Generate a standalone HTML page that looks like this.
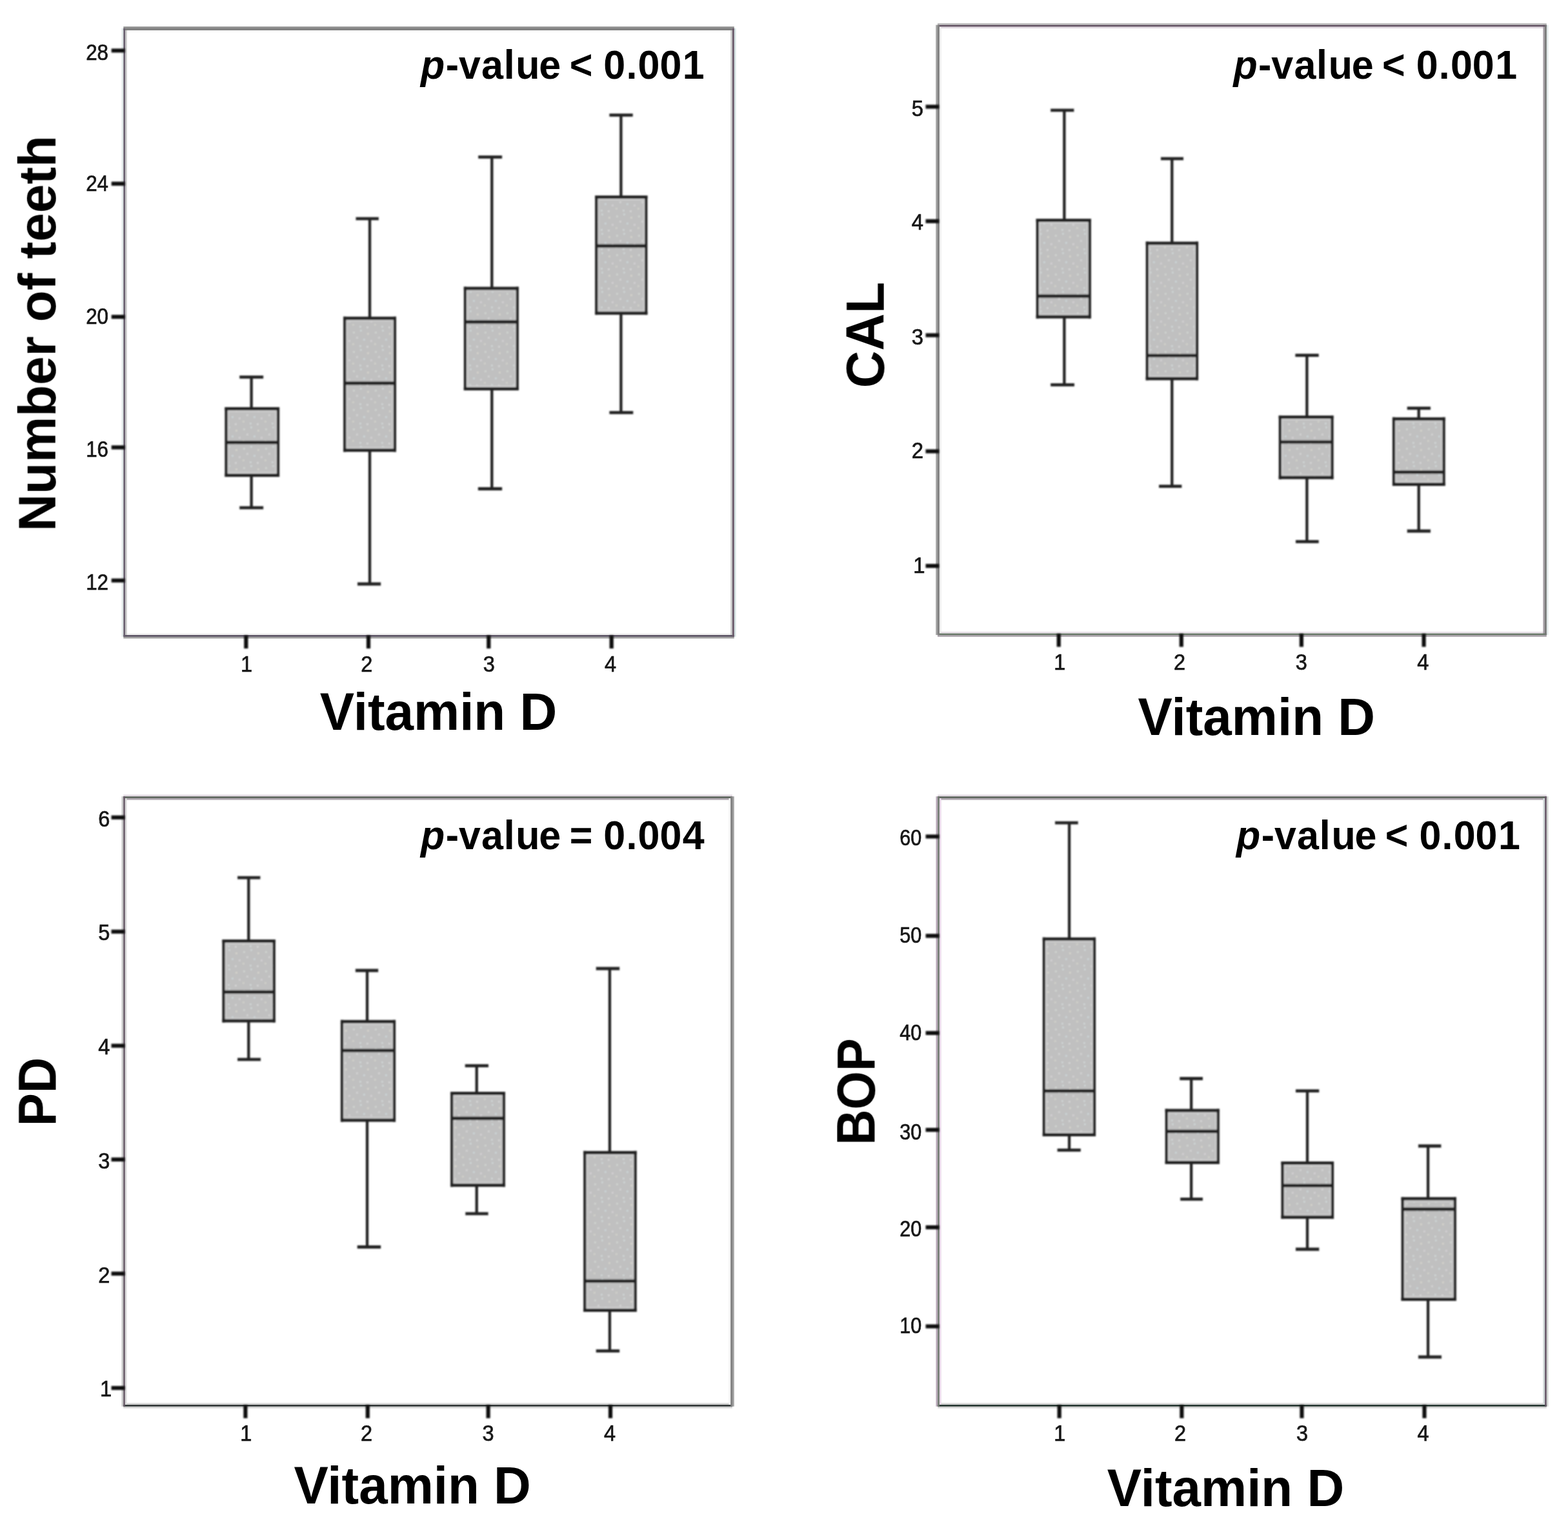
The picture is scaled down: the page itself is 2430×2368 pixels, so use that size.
<!DOCTYPE html>
<html lang="en"><head><meta charset="utf-8"><title>Vitamin D box plots</title>
<style>
html,body{margin:0;padding:0;background:#fff;}
body{width:2430px;height:2368px;overflow:hidden;}
svg{display:block;}
text{font-family:"Liberation Sans",Arial,Helvetica,sans-serif;fill:#000;}
.lab{font-weight:bold;}
.tk{font-size:35px;fill:#161616;stroke:#161616;stroke-width:0.7px;}
.pv{font-size:61px;font-weight:bold;}
.ax{font-size:80px;font-weight:bold;}
</style></head><body>
<svg xmlns="http://www.w3.org/2000/svg" width="2430" height="2368" viewBox="0 0 2430 2368">
<defs><pattern id="spk" width="34" height="30" patternUnits="userSpaceOnUse"><rect width="34" height="30" fill="#c0c0c0"/><rect x="3" y="4" width="2.7" height="2.7" fill="#d2d6d2"/><rect x="14" y="1" width="2.7" height="2.7" fill="#cfd6d6"/><rect x="25" y="6" width="2.7" height="2.7" fill="#d6d4cc"/><rect x="8" y="12" width="2.7" height="2.7" fill="#d4d4d4"/><rect x="19" y="15" width="2.7" height="2.7" fill="#ccd6d8"/><rect x="30" y="17" width="2.7" height="2.7" fill="#d4d2d4"/><rect x="2" y="22" width="2.7" height="2.7" fill="#d2d2ca"/><rect x="13" y="25" width="2.7" height="2.7" fill="#d0d6d6"/><rect x="24" y="26" width="2.7" height="2.7" fill="#d6d6d6"/></pattern><filter id="soft" x="-5%" y="-5%" width="110%" height="110%"><feGaussianBlur stdDeviation="0.9"/></filter>
<filter id="soft2" x="-5%" y="-5%" width="110%" height="110%"><feGaussianBlur stdDeviation="0.7"/></filter>
<filter id="soft3" x="-5%" y="-5%" width="110%" height="110%"><feGaussianBlur stdDeviation="0.5"/></filter></defs>
<rect x="0" y="0" width="2430" height="2368" fill="#ffffff"/>
<g id="plot1">
<g filter="url(#soft3)">
<rect x="191.3" y="41.2" width="946.5" height="2.7" fill="#8c8c8c"/>
<rect x="191.3" y="46.9" width="946.5" height="2.7" fill="#f6f6f6"/>
<rect x="191.3" y="981.4" width="946.5" height="2.7" fill="#f0f0f0"/>
<rect x="191.3" y="986.8" width="946.5" height="2.7" fill="#a0a0a0"/>
<rect x="188.6" y="43.9" width="2.7" height="942.9" fill="#e0e8e8"/>
<rect x="194" y="43.9" width="2.7" height="942.9" fill="#c8c8c8"/>
<rect x="1132.3" y="43.9" width="2.7" height="942.9" fill="#c8c8c8"/>
<rect x="1137.8" y="43.9" width="2.7" height="942.9" fill="#d4e2e2"/>
<rect x="191.3" y="43.9" width="946.5" height="3" fill="#7c7c7c"/>
<rect x="191.3" y="984.1" width="946.5" height="2.7" fill="#585060"/>
<rect x="191.3" y="43.9" width="2.7" height="942.9" fill="#6a6070"/>
<rect x="1135" y="43.9" width="2.8" height="942.9" fill="#6a5a6a"/>
</g>
<g filter="url(#soft)">
<line x1="172.7" y1="78.4" x2="193.5" y2="78.4" stroke="#111" stroke-width="6.2"/>
<line x1="172.7" y1="284.7" x2="193.5" y2="284.7" stroke="#111" stroke-width="6.2"/>
<line x1="172.7" y1="491" x2="193.5" y2="491" stroke="#111" stroke-width="6.2"/>
<line x1="172.7" y1="693.3" x2="193.5" y2="693.3" stroke="#111" stroke-width="6.2"/>
<line x1="172.7" y1="899.6" x2="193.5" y2="899.6" stroke="#111" stroke-width="6.2"/>
<line x1="381.3" y1="984.7" x2="381.3" y2="1005" stroke="#111" stroke-width="6.2"/>
<line x1="571" y1="984.7" x2="571" y2="1005" stroke="#111" stroke-width="6.2"/>
<line x1="757.3" y1="984.7" x2="757.3" y2="1005" stroke="#111" stroke-width="6.2"/>
<line x1="947.7" y1="984.7" x2="947.7" y2="1005" stroke="#111" stroke-width="6.2"/>
<line x1="389.6" y1="584.3" x2="389.6" y2="786.8" stroke="#202020" stroke-width="4.3"/>
<line x1="371.2" y1="584.3" x2="408.1" y2="584.3" stroke="#202020" stroke-width="4.8"/>
<line x1="371.2" y1="786.8" x2="408.1" y2="786.8" stroke="#202020" stroke-width="4.8"/>
<rect x="350.5" y="633.6" width="80.5" height="102.9" fill="url(#spk)"/>
<rect x="353.9" y="637.4" width="73.7" height="95.3" fill="none" stroke="#cecece" stroke-width="2.4"/>
<line x1="350.5" y1="631.1" x2="350.5" y2="739" stroke="#242424" stroke-width="4.2"/>
<line x1="431" y1="631.1" x2="431" y2="739" stroke="#242424" stroke-width="4.2"/>
<line x1="348.4" y1="633.6" x2="433.1" y2="633.6" stroke="#242424" stroke-width="5"/>
<line x1="348.4" y1="736.5" x2="433.1" y2="736.5" stroke="#242424" stroke-width="5"/>
<line x1="350.5" y1="685.6" x2="431" y2="685.6" stroke="#242424" stroke-width="5.2"/>
<line x1="573" y1="338.8" x2="573" y2="905" stroke="#202020" stroke-width="4.3"/>
<line x1="551.5" y1="338.8" x2="586.8" y2="338.8" stroke="#202020" stroke-width="4.8"/>
<line x1="554" y1="905" x2="590.2" y2="905" stroke="#202020" stroke-width="4.8"/>
<rect x="534.2" y="493.3" width="77.7" height="204.4" fill="url(#spk)"/>
<rect x="537.6" y="497.1" width="70.9" height="196.8" fill="none" stroke="#cecece" stroke-width="2.4"/>
<line x1="534.2" y1="490.8" x2="534.2" y2="700.2" stroke="#242424" stroke-width="4.2"/>
<line x1="611.9" y1="490.8" x2="611.9" y2="700.2" stroke="#242424" stroke-width="4.2"/>
<line x1="532.1" y1="493.3" x2="614" y2="493.3" stroke="#242424" stroke-width="5"/>
<line x1="532.1" y1="697.7" x2="614" y2="697.7" stroke="#242424" stroke-width="5"/>
<line x1="534.2" y1="593.9" x2="611.9" y2="593.9" stroke="#242424" stroke-width="5.2"/>
<line x1="762.3" y1="243.3" x2="762.3" y2="757.5" stroke="#202020" stroke-width="4.3"/>
<line x1="741.2" y1="243.3" x2="778.1" y2="243.3" stroke="#202020" stroke-width="4.8"/>
<line x1="740.9" y1="757.5" x2="778.1" y2="757.5" stroke="#202020" stroke-width="4.8"/>
<rect x="720.9" y="446.9" width="80.9" height="155.5" fill="url(#spk)"/>
<rect x="724.3" y="450.7" width="74.1" height="147.9" fill="none" stroke="#cecece" stroke-width="2.4"/>
<line x1="720.9" y1="444.4" x2="720.9" y2="604.9" stroke="#242424" stroke-width="4.2"/>
<line x1="801.8" y1="444.4" x2="801.8" y2="604.9" stroke="#242424" stroke-width="4.2"/>
<line x1="718.8" y1="446.9" x2="803.9" y2="446.9" stroke="#242424" stroke-width="5"/>
<line x1="718.8" y1="602.4" x2="803.9" y2="602.4" stroke="#242424" stroke-width="5"/>
<line x1="720.9" y1="498.9" x2="801.8" y2="498.9" stroke="#242424" stroke-width="5.2"/>
<line x1="962.4" y1="178.4" x2="962.4" y2="639.3" stroke="#202020" stroke-width="4.3"/>
<line x1="944.4" y1="178.4" x2="980.7" y2="178.4" stroke="#202020" stroke-width="4.8"/>
<line x1="944.4" y1="639.3" x2="981.3" y2="639.3" stroke="#202020" stroke-width="4.8"/>
<rect x="924.3" y="305.5" width="77" height="179.8" fill="url(#spk)"/>
<rect x="927.7" y="309.3" width="70.2" height="172.2" fill="none" stroke="#cecece" stroke-width="2.4"/>
<line x1="924.3" y1="303" x2="924.3" y2="487.8" stroke="#242424" stroke-width="4.2"/>
<line x1="1001.3" y1="303" x2="1001.3" y2="487.8" stroke="#242424" stroke-width="4.2"/>
<line x1="922.2" y1="305.5" x2="1003.4" y2="305.5" stroke="#242424" stroke-width="5"/>
<line x1="922.2" y1="485.3" x2="1003.4" y2="485.3" stroke="#242424" stroke-width="5"/>
<line x1="924.3" y1="381.2" x2="1001.3" y2="381.2" stroke="#242424" stroke-width="5.2"/>
</g>
<g filter="url(#soft2)">
<text class="tk" text-anchor="end" transform="translate(168 92.7) scale(0.895 1)">28</text>
<text class="tk" text-anchor="end" transform="translate(168 296.1) scale(0.895 1)">24</text>
<text class="tk" text-anchor="end" transform="translate(168 502.2) scale(0.895 1)">20</text>
<text class="tk" text-anchor="end" transform="translate(168 707.6) scale(0.895 1)">16</text>
<text class="tk" text-anchor="end" transform="translate(168 913.7) scale(0.895 1)">12</text>
<text class="tk" text-anchor="middle" transform="translate(382 1040.8) scale(0.93 1)">1</text>
<text class="tk" text-anchor="middle" transform="translate(568.3 1040.8) scale(0.93 1)">2</text>
<text class="tk" text-anchor="middle" transform="translate(757.7 1040.8) scale(0.93 1)">3</text>
<text class="tk" text-anchor="middle" transform="translate(946 1040.8) scale(0.93 1)">4</text>
<text class="pv" x="652 690.7 710.9 746 780.7 799.3 835.3 867.6 882.7 918.3 935.3 970.4 988.6 1022.4 1057.8" y="0" transform="translate(0 121.9) scale(1 1.045)"><tspan font-style="italic">p</tspan>-value &lt; 0.001</text>
<text class="ax" font-size="80" style="font-size:80px" text-anchor="middle" transform="translate(86.2 516.7) rotate(-90) scale(1 1.02)">Number of teeth</text>
<text class="ax" transform="translate(495.8 1131.4) scale(1 1.03)">Vitamin D</text>
</g>
</g>
<g id="plot2">
<g filter="url(#soft3)">
<rect x="1453" y="35.9" width="943.8" height="2.7" fill="#c0c0c0"/>
<rect x="1453" y="41.3" width="943.8" height="2.7" fill="#e0d8e0"/>
<rect x="1453" y="978.9" width="943.8" height="2.7" fill="#e8e0e8"/>
<rect x="1453" y="984.1" width="943.8" height="2.7" fill="#a8a0a8"/>
<rect x="1450.3" y="38.6" width="2.7" height="945.5" fill="#a0a0a0"/>
<rect x="1455.9" y="38.6" width="2.7" height="945.5" fill="#ececec"/>
<rect x="2391.4" y="38.6" width="2.7" height="945.5" fill="#a49ea4"/>
<rect x="2396.8" y="38.6" width="2.7" height="945.5" fill="#e0e8e8"/>
<rect x="1453" y="38.6" width="943.8" height="2.7" fill="#605060"/>
<rect x="1453" y="981.6" width="943.8" height="2.5" fill="#687868"/>
<rect x="1453" y="38.6" width="2.9" height="945.5" fill="#808080"/>
<rect x="2394.1" y="38.6" width="2.7" height="945.5" fill="#747474"/>
</g>
<g filter="url(#soft)">
<line x1="1434.5" y1="165.4" x2="1455.2" y2="165.4" stroke="#111" stroke-width="6.2"/>
<line x1="1434.5" y1="342.8" x2="1455.2" y2="342.8" stroke="#111" stroke-width="6.2"/>
<line x1="1434.5" y1="519.5" x2="1455.2" y2="519.5" stroke="#111" stroke-width="6.2"/>
<line x1="1434.5" y1="699.4" x2="1455.2" y2="699.4" stroke="#111" stroke-width="6.2"/>
<line x1="1434.5" y1="877" x2="1455.2" y2="877" stroke="#111" stroke-width="6.2"/>
<line x1="1640.8" y1="982.1" x2="1640.8" y2="1002.4" stroke="#111" stroke-width="6.2"/>
<line x1="1830.8" y1="982.1" x2="1830.8" y2="1002.4" stroke="#111" stroke-width="6.2"/>
<line x1="2016.9" y1="982.1" x2="2016.9" y2="1002.4" stroke="#111" stroke-width="6.2"/>
<line x1="2206.6" y1="982.1" x2="2206.6" y2="1002.4" stroke="#111" stroke-width="6.2"/>
<line x1="1649.4" y1="170.8" x2="1649.4" y2="596.3" stroke="#202020" stroke-width="4.3"/>
<line x1="1628.2" y1="170.8" x2="1664.4" y2="170.8" stroke="#202020" stroke-width="4.8"/>
<line x1="1628.2" y1="596.3" x2="1665" y2="596.3" stroke="#202020" stroke-width="4.8"/>
<rect x="1607.8" y="341.5" width="81" height="149.5" fill="url(#spk)"/>
<rect x="1611.2" y="345.3" width="74.2" height="141.9" fill="none" stroke="#cecece" stroke-width="2.4"/>
<line x1="1607.8" y1="339" x2="1607.8" y2="493.5" stroke="#242424" stroke-width="4.2"/>
<line x1="1688.8" y1="339" x2="1688.8" y2="493.5" stroke="#242424" stroke-width="4.2"/>
<line x1="1605.7" y1="341.5" x2="1690.9" y2="341.5" stroke="#242424" stroke-width="5"/>
<line x1="1605.7" y1="491" x2="1690.9" y2="491" stroke="#242424" stroke-width="5"/>
<line x1="1607.8" y1="458.8" x2="1688.8" y2="458.8" stroke="#242424" stroke-width="5.2"/>
<line x1="1816.3" y1="245.8" x2="1816.3" y2="753.7" stroke="#202020" stroke-width="4.3"/>
<line x1="1799" y1="245.8" x2="1834" y2="245.8" stroke="#202020" stroke-width="4.8"/>
<line x1="1796.1" y1="753.7" x2="1831.4" y2="753.7" stroke="#202020" stroke-width="4.8"/>
<rect x="1777.8" y="377" width="77.2" height="209.8" fill="url(#spk)"/>
<rect x="1781.2" y="380.8" width="70.4" height="202.2" fill="none" stroke="#cecece" stroke-width="2.4"/>
<line x1="1777.8" y1="374.5" x2="1777.8" y2="589.3" stroke="#242424" stroke-width="4.2"/>
<line x1="1855" y1="374.5" x2="1855" y2="589.3" stroke="#242424" stroke-width="4.2"/>
<line x1="1775.7" y1="377" x2="1857.1" y2="377" stroke="#242424" stroke-width="5"/>
<line x1="1775.7" y1="586.8" x2="1857.1" y2="586.8" stroke="#242424" stroke-width="5"/>
<line x1="1777.8" y1="551" x2="1855" y2="551" stroke="#242424" stroke-width="5.2"/>
<line x1="2025.4" y1="550.6" x2="2025.4" y2="839.4" stroke="#202020" stroke-width="4.3"/>
<line x1="2007.4" y1="550.6" x2="2043.7" y2="550.6" stroke="#202020" stroke-width="4.8"/>
<line x1="2008" y1="839.4" x2="2043.7" y2="839.4" stroke="#202020" stroke-width="4.8"/>
<rect x="1983.8" y="646.4" width="80.7" height="93.7" fill="url(#spk)"/>
<rect x="1987.2" y="650.2" width="73.9" height="86.1" fill="none" stroke="#cecece" stroke-width="2.4"/>
<line x1="1983.8" y1="643.9" x2="1983.8" y2="742.6" stroke="#242424" stroke-width="4.2"/>
<line x1="2064.5" y1="643.9" x2="2064.5" y2="742.6" stroke="#242424" stroke-width="4.2"/>
<line x1="1981.7" y1="646.4" x2="2066.6" y2="646.4" stroke="#242424" stroke-width="5"/>
<line x1="1981.7" y1="740.1" x2="2066.6" y2="740.1" stroke="#242424" stroke-width="5"/>
<line x1="1983.8" y1="685" x2="2064.5" y2="685" stroke="#242424" stroke-width="5.2"/>
<line x1="2198.7" y1="632.7" x2="2198.7" y2="823" stroke="#202020" stroke-width="4.3"/>
<line x1="2180.7" y1="632.7" x2="2217" y2="632.7" stroke="#202020" stroke-width="4.8"/>
<line x1="2180.7" y1="823" x2="2217" y2="823" stroke="#202020" stroke-width="4.8"/>
<rect x="2160" y="649.2" width="77.6" height="101.3" fill="url(#spk)"/>
<rect x="2163.4" y="653" width="70.8" height="93.7" fill="none" stroke="#cecece" stroke-width="2.4"/>
<line x1="2160" y1="646.7" x2="2160" y2="753" stroke="#242424" stroke-width="4.2"/>
<line x1="2237.6" y1="646.7" x2="2237.6" y2="753" stroke="#242424" stroke-width="4.2"/>
<line x1="2157.9" y1="649.2" x2="2239.7" y2="649.2" stroke="#242424" stroke-width="5"/>
<line x1="2157.9" y1="750.5" x2="2239.7" y2="750.5" stroke="#242424" stroke-width="5"/>
<line x1="2160" y1="731.6" x2="2237.6" y2="731.6" stroke="#242424" stroke-width="5.2"/>
</g>
<g filter="url(#soft2)">
<text class="tk" text-anchor="end" transform="translate(1431 179.5) scale(0.94 1)">5</text>
<text class="tk" text-anchor="end" transform="translate(1431 356) scale(0.94 1)">4</text>
<text class="tk" text-anchor="end" transform="translate(1431 533.8) scale(0.94 1)">3</text>
<text class="tk" text-anchor="end" transform="translate(1431 710.2) scale(0.94 1)">2</text>
<text class="tk" text-anchor="end" transform="translate(1433.6 887.5) scale(0.94 1)">1</text>
<text class="tk" text-anchor="middle" transform="translate(1642.4 1038) scale(0.93 1)">1</text>
<text class="tk" text-anchor="middle" transform="translate(1828.1 1038) scale(0.93 1)">2</text>
<text class="tk" text-anchor="middle" transform="translate(2016.9 1038) scale(0.93 1)">3</text>
<text class="tk" text-anchor="middle" transform="translate(2205.2 1038) scale(0.93 1)">4</text>
<text class="pv" x="1911.4 1950.1 1970.3 2005.4 2040.1 2058.7 2094.7 2127 2142.1 2177.7 2194.7 2229.8 2248 2281.8 2317.2" y="0" transform="translate(0 121.9) scale(1 1.045)"><tspan font-style="italic">p</tspan>-value &lt; 0.001</text>
<text class="ax" font-size="80" style="font-size:80px" text-anchor="middle" transform="translate(1369.6 519) rotate(-90) scale(1 1.04)">CAL</text>
<text class="ax" transform="translate(1763.6 1139.1) scale(1 1.03)">Vitamin D</text>
</g>
</g>
<g id="plot3">
<g filter="url(#soft3)">
<rect x="191.2" y="1231.5" width="943.8" height="2.7" fill="#e4dce4"/>
<rect x="191.2" y="1237" width="943.8" height="2.7" fill="#b0a8b0"/>
<rect x="191.2" y="2174.3" width="943.8" height="2.7" fill="#d4d4d4"/>
<rect x="191.2" y="2179.7" width="943.8" height="2.7" fill="#d4d4d4"/>
<rect x="188.5" y="1234.2" width="2.7" height="945.5" fill="#c8c8c8"/>
<rect x="193.8" y="1234.2" width="2.7" height="945.5" fill="#dcdcdc"/>
<rect x="1129.5" y="1234.2" width="2.7" height="945.5" fill="#f2f2f2"/>
<rect x="1135" y="1234.2" width="2.7" height="945.5" fill="#a0a0a0"/>
<rect x="191.2" y="1234.2" width="943.8" height="2.8" fill="#606860"/>
<rect x="191.2" y="2177" width="943.8" height="2.7" fill="#303838"/>
<rect x="191.2" y="1234.2" width="2.6" height="945.5" fill="#685a68"/>
<rect x="1132.2" y="1234.2" width="2.8" height="945.5" fill="#808080"/>
</g>
<g filter="url(#soft)">
<line x1="172.5" y1="1266.8" x2="193.3" y2="1266.8" stroke="#111" stroke-width="6.2"/>
<line x1="172.5" y1="1443.8" x2="193.3" y2="1443.8" stroke="#111" stroke-width="6.2"/>
<line x1="172.5" y1="1620.6" x2="193.3" y2="1620.6" stroke="#111" stroke-width="6.2"/>
<line x1="172.5" y1="1796.9" x2="193.3" y2="1796.9" stroke="#111" stroke-width="6.2"/>
<line x1="172.5" y1="1973.8" x2="193.3" y2="1973.8" stroke="#111" stroke-width="6.2"/>
<line x1="172.5" y1="2151" x2="193.3" y2="2151" stroke="#111" stroke-width="6.2"/>
<line x1="380.4" y1="2177.5" x2="380.4" y2="2197.8" stroke="#111" stroke-width="6.2"/>
<line x1="569.8" y1="2177.5" x2="569.8" y2="2197.8" stroke="#111" stroke-width="6.2"/>
<line x1="756.6" y1="2177.5" x2="756.6" y2="2197.8" stroke="#111" stroke-width="6.2"/>
<line x1="946" y1="2177.5" x2="946" y2="2197.8" stroke="#111" stroke-width="6.2"/>
<line x1="385.3" y1="1360.1" x2="385.3" y2="1641.8" stroke="#202020" stroke-width="4.3"/>
<line x1="368.1" y1="1360.1" x2="403.4" y2="1360.1" stroke="#202020" stroke-width="4.8"/>
<line x1="368.1" y1="1641.8" x2="404" y2="1641.8" stroke="#202020" stroke-width="4.8"/>
<rect x="346.5" y="1458.4" width="78.2" height="123.7" fill="url(#spk)"/>
<rect x="349.9" y="1462.2" width="71.4" height="116.1" fill="none" stroke="#cecece" stroke-width="2.4"/>
<line x1="346.5" y1="1455.9" x2="346.5" y2="1584.6" stroke="#242424" stroke-width="4.2"/>
<line x1="424.7" y1="1455.9" x2="424.7" y2="1584.6" stroke="#242424" stroke-width="4.2"/>
<line x1="344.4" y1="1458.4" x2="426.8" y2="1458.4" stroke="#242424" stroke-width="5"/>
<line x1="344.4" y1="1582.1" x2="426.8" y2="1582.1" stroke="#242424" stroke-width="5"/>
<line x1="346.5" y1="1537.3" x2="424.7" y2="1537.3" stroke="#242424" stroke-width="5.2"/>
<line x1="569" y1="1504" x2="569" y2="1932.5" stroke="#202020" stroke-width="4.3"/>
<line x1="550.9" y1="1504" x2="586.2" y2="1504" stroke="#202020" stroke-width="4.8"/>
<line x1="553.7" y1="1932.5" x2="590.2" y2="1932.5" stroke="#202020" stroke-width="4.8"/>
<rect x="530" y="1583.3" width="81" height="152.6" fill="url(#spk)"/>
<rect x="533.4" y="1587.1" width="74.2" height="145" fill="none" stroke="#cecece" stroke-width="2.4"/>
<line x1="530" y1="1580.8" x2="530" y2="1738.4" stroke="#242424" stroke-width="4.2"/>
<line x1="611" y1="1580.8" x2="611" y2="1738.4" stroke="#242424" stroke-width="4.2"/>
<line x1="527.9" y1="1583.3" x2="613.1" y2="1583.3" stroke="#242424" stroke-width="5"/>
<line x1="527.9" y1="1735.9" x2="613.1" y2="1735.9" stroke="#242424" stroke-width="5"/>
<line x1="530" y1="1628" x2="611" y2="1628" stroke="#242424" stroke-width="5.2"/>
<line x1="738.7" y1="1651.6" x2="738.7" y2="1880.8" stroke="#202020" stroke-width="4.3"/>
<line x1="720.7" y1="1651.6" x2="757" y2="1651.6" stroke="#202020" stroke-width="4.8"/>
<line x1="721.3" y1="1880.8" x2="756.6" y2="1880.8" stroke="#202020" stroke-width="4.8"/>
<rect x="700.2" y="1694.6" width="80.6" height="142.1" fill="url(#spk)"/>
<rect x="703.6" y="1698.4" width="73.8" height="134.5" fill="none" stroke="#cecece" stroke-width="2.4"/>
<line x1="700.2" y1="1692.1" x2="700.2" y2="1839.2" stroke="#242424" stroke-width="4.2"/>
<line x1="780.8" y1="1692.1" x2="780.8" y2="1839.2" stroke="#242424" stroke-width="4.2"/>
<line x1="698.1" y1="1694.6" x2="782.9" y2="1694.6" stroke="#242424" stroke-width="5"/>
<line x1="698.1" y1="1836.7" x2="782.9" y2="1836.7" stroke="#242424" stroke-width="5"/>
<line x1="700.2" y1="1733.2" x2="780.8" y2="1733.2" stroke="#242424" stroke-width="5.2"/>
<line x1="944.9" y1="1501" x2="944.9" y2="2093.6" stroke="#202020" stroke-width="4.3"/>
<line x1="923.7" y1="1501" x2="960.2" y2="1501" stroke="#202020" stroke-width="4.8"/>
<line x1="923.7" y1="2093.6" x2="960.2" y2="2093.6" stroke="#202020" stroke-width="4.8"/>
<rect x="906.3" y="1786.3" width="78.3" height="244.1" fill="url(#spk)"/>
<rect x="909.7" y="1790.1" width="71.5" height="236.5" fill="none" stroke="#cecece" stroke-width="2.4"/>
<line x1="906.3" y1="1783.8" x2="906.3" y2="2032.9" stroke="#242424" stroke-width="4.2"/>
<line x1="984.6" y1="1783.8" x2="984.6" y2="2032.9" stroke="#242424" stroke-width="4.2"/>
<line x1="904.2" y1="1786.3" x2="986.7" y2="1786.3" stroke="#242424" stroke-width="5"/>
<line x1="904.2" y1="2030.4" x2="986.7" y2="2030.4" stroke="#242424" stroke-width="5"/>
<line x1="906.3" y1="1985.4" x2="984.6" y2="1985.4" stroke="#242424" stroke-width="5.2"/>
</g>
<g filter="url(#soft2)">
<text class="tk" text-anchor="end" transform="translate(170.4 1280.7) scale(0.93 1)">6</text>
<text class="tk" text-anchor="end" transform="translate(170.4 1457.2) scale(0.93 1)">5</text>
<text class="tk" text-anchor="end" transform="translate(170.4 1633.9) scale(0.93 1)">4</text>
<text class="tk" text-anchor="end" transform="translate(170.4 1810.9) scale(0.93 1)">3</text>
<text class="tk" text-anchor="end" transform="translate(170.4 1988.2) scale(0.93 1)">2</text>
<text class="tk" text-anchor="end" transform="translate(173 2164.1) scale(0.93 1)">1</text>
<text class="tk" text-anchor="middle" transform="translate(381.3 2232.8) scale(0.93 1)">1</text>
<text class="tk" text-anchor="middle" transform="translate(568 2232.8) scale(0.93 1)">2</text>
<text class="tk" text-anchor="middle" transform="translate(756.6 2232.8) scale(0.93 1)">3</text>
<text class="tk" text-anchor="middle" transform="translate(945 2232.8) scale(0.93 1)">4</text>
<text class="pv" x="652 690.7 710.9 746 780.7 799.3 835.3 867.6 882.7 918.3 935.3 970.4 988.6 1022.4 1057.8" y="0" transform="translate(0 1315.6) scale(1 1.045)"><tspan font-style="italic">p</tspan>-value = 0.004</text>
<text class="ax" font-size="76.6" style="font-size:76.6px" text-anchor="middle" transform="translate(86.4 1692) rotate(-90) scale(1 1.095)">PD</text>
<text class="ax" transform="translate(455.4 2329.6) scale(1 1.03)">Vitamin D</text>
</g>
</g>
<g id="plot4">
<g filter="url(#soft3)">
<rect x="1453.2" y="1231.5" width="943.6" height="2.7" fill="#e4dce4"/>
<rect x="1453.2" y="1237" width="943.6" height="2.7" fill="#b0a8b0"/>
<rect x="1453.2" y="2174.3" width="943.6" height="2.7" fill="#d4d4d4"/>
<rect x="1453.2" y="2179.7" width="943.6" height="2.7" fill="#d4d4d4"/>
<rect x="1450.5" y="1234.2" width="2.7" height="945.5" fill="#b8a8b8"/>
<rect x="1455.9" y="1234.2" width="2.7" height="945.5" fill="#e8d8e8"/>
<rect x="2391.4" y="1234.2" width="2.7" height="945.5" fill="#d0d8d8"/>
<rect x="2396.8" y="1234.2" width="2.7" height="945.5" fill="#d0d4d0"/>
<rect x="1453.2" y="1234.2" width="943.6" height="2.8" fill="#606860"/>
<rect x="1453.2" y="2177" width="943.6" height="2.7" fill="#283830"/>
<rect x="1453.2" y="1234.2" width="2.7" height="945.5" fill="#707870"/>
<rect x="2394.1" y="1234.2" width="2.7" height="945.5" fill="#685868"/>
</g>
<g filter="url(#soft)">
<line x1="1434.6" y1="1296.4" x2="1455.4" y2="1296.4" stroke="#111" stroke-width="6.2"/>
<line x1="1434.6" y1="1450.3" x2="1455.4" y2="1450.3" stroke="#111" stroke-width="6.2"/>
<line x1="1434.6" y1="1600.9" x2="1455.4" y2="1600.9" stroke="#111" stroke-width="6.2"/>
<line x1="1434.6" y1="1751" x2="1455.4" y2="1751" stroke="#111" stroke-width="6.2"/>
<line x1="1434.6" y1="1902" x2="1455.4" y2="1902" stroke="#111" stroke-width="6.2"/>
<line x1="1434.6" y1="2055.5" x2="1455.4" y2="2055.5" stroke="#111" stroke-width="6.2"/>
<line x1="1641.7" y1="2177.5" x2="1641.7" y2="2197.8" stroke="#111" stroke-width="6.2"/>
<line x1="1831.4" y1="2177.5" x2="1831.4" y2="2197.8" stroke="#111" stroke-width="6.2"/>
<line x1="2017.5" y1="2177.5" x2="2017.5" y2="2197.8" stroke="#111" stroke-width="6.2"/>
<line x1="2207.5" y1="2177.5" x2="2207.5" y2="2197.8" stroke="#111" stroke-width="6.2"/>
<line x1="1657.1" y1="1275.2" x2="1657.1" y2="1782.4" stroke="#202020" stroke-width="4.3"/>
<line x1="1635.1" y1="1275.2" x2="1670.7" y2="1275.2" stroke="#202020" stroke-width="4.8"/>
<line x1="1638.6" y1="1782.4" x2="1674.8" y2="1782.4" stroke="#202020" stroke-width="4.8"/>
<rect x="1617.9" y="1455.2" width="78.1" height="303.4" fill="url(#spk)"/>
<rect x="1621.3" y="1459" width="71.3" height="295.8" fill="none" stroke="#cecece" stroke-width="2.4"/>
<line x1="1617.9" y1="1452.7" x2="1617.9" y2="1761.1" stroke="#242424" stroke-width="4.2"/>
<line x1="1696" y1="1452.7" x2="1696" y2="1761.1" stroke="#242424" stroke-width="4.2"/>
<line x1="1615.8" y1="1455.2" x2="1698.1" y2="1455.2" stroke="#242424" stroke-width="5"/>
<line x1="1615.8" y1="1758.6" x2="1698.1" y2="1758.6" stroke="#242424" stroke-width="5"/>
<line x1="1617.9" y1="1690.7" x2="1696" y2="1690.7" stroke="#242424" stroke-width="5.2"/>
<line x1="1846.2" y1="1671.5" x2="1846.2" y2="1858.3" stroke="#202020" stroke-width="4.3"/>
<line x1="1828.3" y1="1671.5" x2="1864" y2="1671.5" stroke="#202020" stroke-width="4.8"/>
<line x1="1829.2" y1="1858.3" x2="1864" y2="1858.3" stroke="#202020" stroke-width="4.8"/>
<rect x="1807.8" y="1721.1" width="80" height="80.4" fill="url(#spk)"/>
<rect x="1811.2" y="1724.9" width="73.2" height="72.8" fill="none" stroke="#cecece" stroke-width="2.4"/>
<line x1="1807.8" y1="1718.6" x2="1807.8" y2="1804" stroke="#242424" stroke-width="4.2"/>
<line x1="1887.8" y1="1718.6" x2="1887.8" y2="1804" stroke="#242424" stroke-width="4.2"/>
<line x1="1805.7" y1="1721.1" x2="1889.9" y2="1721.1" stroke="#242424" stroke-width="5"/>
<line x1="1805.7" y1="1801.5" x2="1889.9" y2="1801.5" stroke="#242424" stroke-width="5"/>
<line x1="1807.8" y1="1753.3" x2="1887.8" y2="1753.3" stroke="#242424" stroke-width="5.2"/>
<line x1="2026" y1="1690.7" x2="2026" y2="1936" stroke="#202020" stroke-width="4.3"/>
<line x1="2008" y1="1690.7" x2="2044.3" y2="1690.7" stroke="#202020" stroke-width="4.8"/>
<line x1="2008" y1="1936" x2="2044.3" y2="1936" stroke="#202020" stroke-width="4.8"/>
<rect x="1987.6" y="1802.5" width="77.4" height="83.7" fill="url(#spk)"/>
<rect x="1991" y="1806.3" width="70.6" height="76.1" fill="none" stroke="#cecece" stroke-width="2.4"/>
<line x1="1987.6" y1="1800" x2="1987.6" y2="1888.7" stroke="#242424" stroke-width="4.2"/>
<line x1="2065" y1="1800" x2="2065" y2="1888.7" stroke="#242424" stroke-width="4.2"/>
<line x1="1985.5" y1="1802.5" x2="2067.1" y2="1802.5" stroke="#242424" stroke-width="5"/>
<line x1="1985.5" y1="1886.2" x2="2067.1" y2="1886.2" stroke="#242424" stroke-width="5"/>
<line x1="1987.6" y1="1837.3" x2="2065" y2="1837.3" stroke="#242424" stroke-width="5.2"/>
<line x1="2213.1" y1="1776" x2="2213.1" y2="2103" stroke="#202020" stroke-width="4.3"/>
<line x1="2198" y1="1776" x2="2233.4" y2="1776" stroke="#202020" stroke-width="4.8"/>
<line x1="2198" y1="2103" x2="2234" y2="2103" stroke="#202020" stroke-width="4.8"/>
<rect x="2173.7" y="1857.8" width="81.1" height="155.6" fill="url(#spk)"/>
<rect x="2177.1" y="1861.6" width="74.3" height="148" fill="none" stroke="#cecece" stroke-width="2.4"/>
<line x1="2173.7" y1="1855.3" x2="2173.7" y2="2015.9" stroke="#242424" stroke-width="4.2"/>
<line x1="2254.8" y1="1855.3" x2="2254.8" y2="2015.9" stroke="#242424" stroke-width="4.2"/>
<line x1="2171.6" y1="1857.8" x2="2256.9" y2="1857.8" stroke="#242424" stroke-width="5"/>
<line x1="2171.6" y1="2013.4" x2="2256.9" y2="2013.4" stroke="#242424" stroke-width="5"/>
<line x1="2173.7" y1="1873.8" x2="2254.8" y2="1873.8" stroke="#242424" stroke-width="5.2"/>
</g>
<g filter="url(#soft2)">
<text class="tk" text-anchor="end" transform="translate(1428.4 1309.8) scale(0.875 1)">60</text>
<text class="tk" text-anchor="end" transform="translate(1428.4 1460.6) scale(0.875 1)">50</text>
<text class="tk" text-anchor="end" transform="translate(1428.4 1611.6) scale(0.875 1)">40</text>
<text class="tk" text-anchor="end" transform="translate(1428.4 1765.7) scale(0.875 1)">30</text>
<text class="tk" text-anchor="end" transform="translate(1428.4 1915.9) scale(0.875 1)">20</text>
<text class="tk" text-anchor="end" transform="translate(1428.4 2066.4) scale(0.875 1)">10</text>
<text class="tk" text-anchor="middle" transform="translate(1642.4 2232.8) scale(0.93 1)">1</text>
<text class="tk" text-anchor="middle" transform="translate(1829 2232.8) scale(0.93 1)">2</text>
<text class="tk" text-anchor="middle" transform="translate(2018.1 2232.8) scale(0.93 1)">3</text>
<text class="tk" text-anchor="middle" transform="translate(2205.6 2232.8) scale(0.93 1)">4</text>
<text class="pv" x="1916.1 1954.8 1975 2010.1 2044.8 2063.4 2099.4 2131.7 2146.8 2182.4 2199.4 2234.5 2252.7 2286.5 2321.9" y="0" transform="translate(0 1315.6) scale(1 1.045)"><tspan font-style="italic">p</tspan>-value &lt; 0.001</text>
<text class="ax" font-size="76.5" style="font-size:76.5px" text-anchor="middle" transform="translate(1355.4 1691.8) rotate(-90) scale(1 1.083)">BOP</text>
<text class="ax" transform="translate(1715.8 2334.3) scale(1 1.03)">Vitamin D</text>
</g>
</g>
</svg>
</body></html>
